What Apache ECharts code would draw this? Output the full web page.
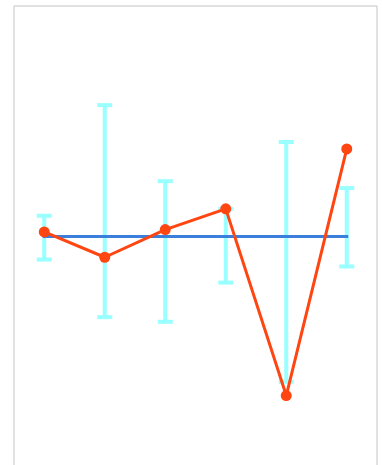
<!DOCTYPE html>
<html>
<head>
<meta charset="utf-8">
<script src="https://cdn.jsdelivr.net/npm/echarts@6/dist/echarts.min.js"></script>
<style>
  html, body { margin: 0; padding: 0; background: #fff; overflow: hidden; }
  #chart { width: 382px; height: 480px; }
</style>
</head>
<body>
<div id="chart"></div>
<script>
// Categories along the x axis (labels hidden)
var categories = ['1', '2', '3', '4', '5', '6'];
// Measured values per category
var measured = [0.2, -0.9, 0.3, 1.2, -6.9, 3.8];
// Error range per category
var errLow = [-1.0, -3.5, -3.7, -2.0, -6.3, -1.3];
var errHigh = [0.9, 5.7, 2.4, 1.2, 4.1, 2.1];
// Reference level
var reference = [0, 0, 0, 0, 0, 0];

var errData = categories.map(function (c, i) { return [i, errLow[i], errHigh[i]]; });

var chart = echarts.init(document.getElementById('chart'), null, { renderer: 'canvas' });

chart.setOption({
  animation: false,
  grid: {
    show: true,
    left: 14, right: 5, top: 6, height: 461,
    borderColor: '#c4c4c4', borderWidth: 1,
    backgroundColor: '#fff'
  },
  xAxis: {
    type: 'category',
    data: categories,
    show: false,
    boundaryGap: true
  },
  yAxis: {
    type: 'value',
    min: -10, max: 10,
    show: false
  },
  series: [
    {
      type: 'custom',
      z: 1,
      data: errData,
      encode: { x: 0, y: [1, 2] },
      renderItem: function (params, api) {
        var x = api.value(0);
        var lo = api.coord([x, api.value(1)]);
        var hi = api.coord([x, api.value(2)]);
        var half = 7.5;
        var style = { stroke: '#99ffff', lineWidth: 4, fill: null };
        return {
          type: 'group',
          children: [
            { type: 'line', shape: { x1: hi[0], y1: hi[1], x2: lo[0], y2: lo[1] }, style: style },
            { type: 'line', shape: { x1: hi[0] - half, y1: hi[1], x2: hi[0] + half, y2: hi[1] }, style: style },
            { type: 'line', shape: { x1: lo[0] - half, y1: lo[1], x2: lo[0] + half, y2: lo[1] }, style: style }
          ]
        };
      }
    },
    {
      type: 'line',
      z: 2,
      data: reference,
      symbol: 'none',
      lineStyle: { color: '#3a7fdc', width: 3, cap: 'square' }
    },
    {
      type: 'line',
      z: 3,
      data: measured,
      symbol: 'circle',
      symbolSize: 11,
      itemStyle: { color: '#ff4511' },
      lineStyle: { color: '#ff4511', width: 3 }
    }
  ]
});
</script>
</body>
</html>
